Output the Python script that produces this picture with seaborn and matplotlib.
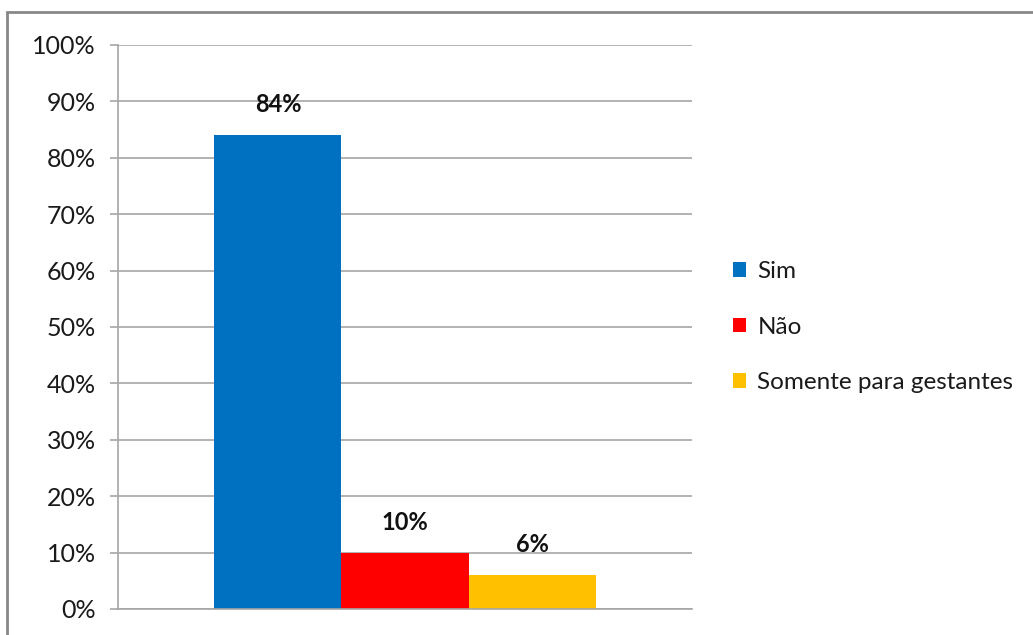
import matplotlib
matplotlib.use("Agg")
import matplotlib.pyplot as plt
import seaborn as sns
import pandas as pd
from matplotlib.patches import Rectangle
from matplotlib.ticker import MultipleLocator, FuncFormatter

categories = ["Sim", "Não", "Somente para gestantes"]
values = [84, 10, 6]
colors = ["#0070C0", "#FF0000", "#FFC000"]

df = pd.DataFrame({"grupo": [""] * len(categories), "resposta": categories, "valor": values})

sns.set_theme(style="white")
plt.rcParams["font.family"] = ["Lato", "DejaVu Sans"]

fig = plt.figure(figsize=(10.33, 6.35), dpi=100)
ax = fig.add_axes([118 / 1033, 1 - 609 / 635, (692 - 118) / 1033, (609 - 45) / 635])

sns.barplot(data=df, x="grupo", y="valor", hue="resposta", hue_order=categories,
            palette=colors, width=0.664, saturation=1, linewidth=0, ax=ax, legend=True)

ax.set_xlim(-0.5, 0.5)
ax.set_ylim(0, 100)
ax.yaxis.set_major_locator(MultipleLocator(10))
ax.yaxis.set_major_formatter(FuncFormatter(lambda v, p: f"{int(v)}%"))
ax.grid(axis="y", color="#A6A6A6", linewidth=1.2)
ax.set_axisbelow(True)
for s in ["top", "right"]:
    ax.spines[s].set_visible(False)
for s in ["left", "bottom"]:
    ax.spines[s].set_color("#A6A6A6")
    ax.spines[s].set_linewidth(1.2)
ax.tick_params(axis="y", which="major", left=True, length=6, width=1.2, color="#A6A6A6",
               labelsize=18, labelcolor="#1a1a1a", pad=10)
ax.tick_params(axis="x", bottom=False, labelbottom=False)
ax.set_xlabel("")
ax.set_ylabel("")

for container in ax.containers:
    for bar in container:
        h = bar.get_height()
        ax.annotate(f"{h:.0f}%", (bar.get_x() + bar.get_width() / 2, h),
                    xytext=(0, 22), textcoords="offset points", ha="center", va="center",
                    fontsize=17, fontweight="bold", color="#111111")

leg = ax.legend(loc="center left", bbox_to_anchor=((733 - 118) / 574, 0.5),
                frameon=False, fontsize=17.5, handlelength=0.55, handleheight=0.55,
                handletextpad=0.45, labelspacing=1.42, borderaxespad=0, borderpad=0)
for t in leg.get_texts():
    t.set_color("#1a1a1a")

fig.patches.append(Rectangle((7 / 1033, -0.1), 1.2, 1 - 12 / 635 + 0.1, transform=fig.transFigure,
                             fill=False, edgecolor="#888888", linewidth=2))

fig.savefig("out.png", dpi=100)
